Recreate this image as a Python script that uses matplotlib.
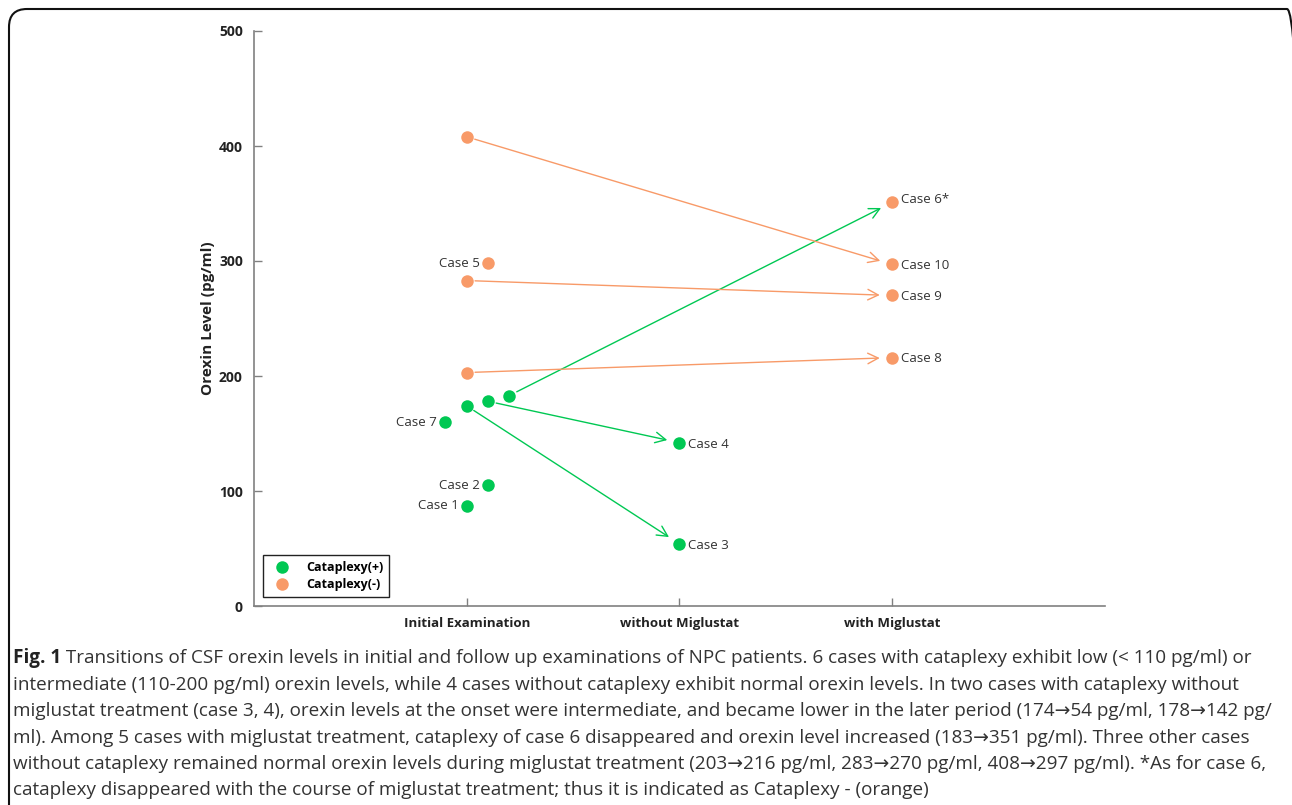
import matplotlib
matplotlib.use("Agg")
import matplotlib.pyplot as plt
import matplotlib.transforms as mtransforms
from matplotlib.patches import FancyBboxPatch
from matplotlib.lines import Line2D

plt.rcParams['font.family'] = ['Open Sans', 'DejaVu Sans']

# data
stages = ["Initial Examination", "without Miglustat", "with Miglustat"]
cases = ["Case 1", "Case 2", "Case 3", "Case 4", "Case 5",
         "Case 6*", "Case 7", "Case 8", "Case 9", "Case 10"]
initial = [87, 105, 174, 178, 298, 183, 160, 203, 283, 408]
initial_cataplexy = [True, True, True, True, False, True, True, False, False, False]
follow_stage = [None, None, 1, 1, None, 2, None, 2, 2, 2]
follow = [None, None, 54, 142, None, 351, None, 216, 270, 297]
follow_cataplexy = [None, None, True, True, None, False, None, False, False, False]
# small side shifts so overlapping dots at the initial exam stay visible
jitter = [0, 0.1, 0, 0.1, 0.1, 0.2, -0.1, 0, 0, 0]
yticks = [0, 100, 200, 300, 400, 500]

caption = [
    " Transitions of CSF orexin levels in initial and follow up examinations of NPC patients. 6 cases with cataplexy exhibit low (< 110 pg/ml) or",
    "intermediate (110-200 pg/ml) orexin levels, while 4 cases without cataplexy exhibit normal orexin levels. In two cases with cataplexy without",
    "miglustat treatment (case 3, 4), orexin levels at the onset were intermediate, and became lower in the later period (174\u219254 pg/ml, 178\u2192142 pg/",
    "ml). Among 5 cases with miglustat treatment, cataplexy of case 6 disappeared and orexin level increased (183\u2192351 pg/ml). Three other cases",
    "without cataplexy remained normal orexin levels during miglustat treatment (203\u2192216 pg/ml, 283\u2192270 pg/ml, 408\u2192297 pg/ml). *As for case 6,",
    "cataplexy disappeared with the course of miglustat treatment; thus it is indicated as Cataplexy - (orange)",
]

GREEN = "#00C853"
ORANGE = "#F89A68"
GREY = "#808080"
TXT = "#333333"

W, H = 1292, 805
fig = plt.figure(figsize=(W / 100, H / 100), dpi=100)
ax = fig.add_axes([254 / W, 1 - 606 / H, (1105 - 254) / W, (606 - 31) / H])

def col(c):
    return GREEN if c else ORANGE

arrow_kw = dict(arrowstyle="->,head_length=0.75,head_width=0.38", lw=1.0,
                shrinkA=6, shrinkB=9, mutation_scale=10)

for i, name in enumerate(cases):
    x0 = 1 + jitter[i]
    ax.plot(x0, initial[i], "o", ms=9, color=col(initial_cataplexy[i]),
            mec="none", zorder=3)
    if follow[i] is not None:
        x1 = 1 + follow_stage[i]
        ax.plot(x1, follow[i], "o", ms=9, color=col(follow_cataplexy[i]),
                mec="none", zorder=3)
        ax.annotate("", xy=(x1, follow[i]), xytext=(x0, initial[i]),
                    arrowprops=dict(color=col(initial_cataplexy[i]), **arrow_kw))
        dy = 2 if name == "Case 6*" else -1
        ax.annotate(name, xy=(x1, follow[i]), xytext=(6, dy),
                    textcoords="offset points", ha="left", va="center",
                    fontsize=9.5, color=TXT)
    else:
        ax.annotate(name, xy=(x0, initial[i]), xytext=(-6, 0),
                    textcoords="offset points", ha="right", va="center",
                    fontsize=9.5, color=TXT)

ax.set_xlim(0, 4)
ax.set_ylim(0, 500)
ax.set_xticks([1, 2, 3])
ax.set_xticklabels(stages, fontsize=9.5, fontweight="bold", color="#222222")
ax.set_yticks(yticks)
ax.set_yticklabels([str(v) for v in yticks], fontsize=10, fontweight="bold",
                   color="#222222")
ax.tick_params(direction="in", length=6, color=GREY, width=1)
ax.tick_params(axis="x", pad=8)
ax.tick_params(axis="y", pad=8)
ax.set_ylabel("Orexin Level (pg/ml)", fontsize=11, fontweight="bold",
              color="#222222", labelpad=3)
for s in ["top", "right"]:
    ax.spines[s].set_visible(False)
for s in ["left", "bottom"]:
    ax.spines[s].set_color(GREY)
    ax.spines[s].set_linewidth(1.2)

handles = [Line2D([], [], ls="none", marker="o", ms=9, color=GREEN, mec="none"),
           Line2D([], [], ls="none", marker="o", ms=9, color=ORANGE, mec="none")]
leg = ax.legend(handles, ["Cataplexy(+)", "Cataplexy(-)"], loc="lower left",
                bbox_to_anchor=(9 / 851, 9 / 575), borderaxespad=0,
                fancybox=False, edgecolor="#222222", framealpha=1,
                prop={"weight": "bold", "size": 9}, handletextpad=0.8,
                labelspacing=0.35, borderpad=0.45, handlelength=2.2)
leg.get_frame().set_linewidth(1.0)

# caption
line_y = [658, 685, 711, 738, 764, 790]
CAP = 13.6
t0 = fig.text(13 / W, 1 - line_y[0] / H, "Fig. 1", fontsize=CAP,
              fontweight="bold", va="center", color="#222222")
fig.canvas.draw()
ax.annotate(caption[0], xy=(1, 0.5), xycoords=t0, va="center", ha="left",
            fontsize=CAP, color="#333333", annotation_clip=False)
for k in range(1, len(caption)):
    fig.text(13 / W, 1 - line_y[k] / H, caption[k], fontsize=CAP,
             va="center", color="#333333")

# rounded frame around the figure panel
frame = FancyBboxPatch((9, -40), 1296, H - 9 + 40,
                       boxstyle="round,pad=0,rounding_size=18",
                       transform=mtransforms.IdentityTransform(),
                       fill=False, ec="#111111", lw=1.5)
fig.add_artist(frame)

fig.savefig("out.png", dpi=100)
